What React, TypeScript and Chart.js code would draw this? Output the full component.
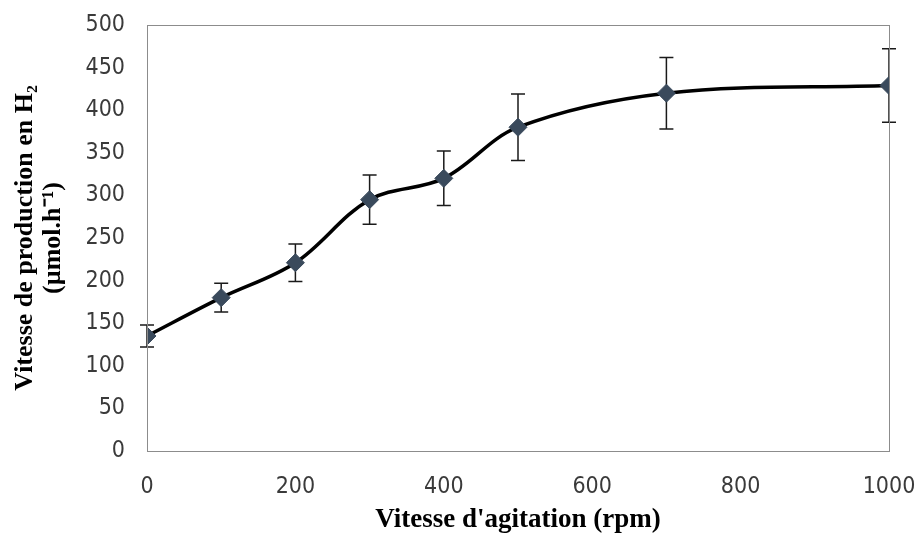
import React, { useEffect, useRef } from "react";
import { Chart, registerables } from "chart.js";

Chart.register(...registerables);

const speeds = [0, 100, 200, 300, 400, 500, 700, 1000];
const production = [135, 180, 221, 295, 320, 380, 420, 429];
const errors = [13, 17, 22, 29, 32, 39, 42, 43];
const yTicks = [0, 50, 100, 150, 200, 250, 300, 350, 400, 450, 500];
const xTicks = [0, 200, 400, 600, 800, 1000];

const errorBarPlugin = {
  id: "errorBars",
  beforeDatasetsDraw(chart: any) {
    const ctx = chart.ctx;
    const xs = chart.scales.x;
    const ys = chart.scales.y;
    ctx.save();
    ctx.strokeStyle = "#1a1a1a";
    ctx.lineWidth = 1.5;
    speeds.forEach((s, i) => {
      const x = xs.getPixelForValue(s);
      const yTop = ys.getPixelForValue(production[i] + errors[i]);
      const yBot = ys.getPixelForValue(production[i] - errors[i]);
      ctx.beginPath();
      ctx.moveTo(x, yTop);
      ctx.lineTo(x, yBot);
      ctx.moveTo(x - 7, yTop);
      ctx.lineTo(x + 7, yTop);
      ctx.moveTo(x - 7, yBot);
      ctx.lineTo(x + 7, yBot);
      ctx.stroke();
    });
    ctx.restore();
  },
};

const boxPlugin = {
  id: "box",
  afterDraw(chart: any) {
    const { ctx, chartArea } = chart;
    ctx.save();
    ctx.strokeStyle = "#8c8c8c";
    ctx.lineWidth = 1;
    ctx.strokeRect(
      Math.round(chartArea.left) + 0.5,
      Math.round(chartArea.top) + 0.5,
      Math.round(chartArea.right - chartArea.left),
      Math.round(chartArea.bottom - chartArea.top)
    );
    ctx.restore();
  },
};

const tickFont = { family: "'DejaVu Sans Condensed', 'DejaVu Sans', sans-serif", size: 23 };

export default function App() {
  const ref = useRef<HTMLCanvasElement>(null);
  useEffect(() => {
    document.body.style.margin = "0";
    const chart = new Chart(ref.current!, {
      type: "line",
      data: {
        datasets: [
          {
            data: speeds.map((s, i) => ({ x: s, y: production[i] })),
            borderColor: "#000000",
            borderWidth: 3.5,
            tension: 0.35,
            pointStyle: "rectRot",
            pointRadius: 9,
            pointBackgroundColor: "#3a4a5c",
            pointBorderColor: "#3a4a5c",
            pointBorderWidth: 1,
            fill: false,
          },
        ],
      },
      options: {
        animation: false,
        responsive: false,
        layout: { padding: { top: 25, right: 29, left: 0, bottom: 0 } },
        plugins: {
          legend: { display: false },
          tooltip: { enabled: false },
        },
        scales: {
          x: {
            type: "linear",
            min: 0,
            max: 1000,
            afterBuildTicks: (scale: any) => {
              scale.ticks = xTicks.map((v) => ({ value: v }));
            },
            afterFit: (scale: any) => {
              scale.height = 85;
              scale.paddingLeft = 0;
              scale.paddingRight = 0;
            },
            grid: { display: false, drawTicks: false },
            border: { display: false },
            ticks: {
              padding: 22,
              color: "#3a3a3a",
              font: tickFont,
              callback: (v: any) => String(v),
            },
            title: {
              display: true,
              text: "Vitesse d'agitation (rpm)",
              color: "#000",
              font: { family: "Liberation Serif", size: 27, weight: "bold", lineHeight: 1.2 },
              padding: { top: 0, bottom: 0 },
            },
          },
          y: {
            type: "linear",
            min: 0,
            max: 500,
            afterBuildTicks: (scale: any) => {
              scale.ticks = yTicks.map((v) => ({ value: v }));
            },
            afterFit: (scale: any) => {
              scale.width = 147;
              scale.paddingTop = 0;
              scale.paddingBottom = 0;
            },
            grid: { display: false, drawTicks: false },
            border: { display: false },
            ticks: {
              padding: 22,
              color: "#3a3a3a",
              font: tickFont,
              callback: (v: any) => String(v),
            },
            title: {
              display: true,
              text: ["Vitesse de production en H\u2082", "(\u00b5mol.h\u207b\u00b9)"],
              color: "#000",
              font: { family: "Liberation Serif", size: 26, weight: "bold", lineHeight: 1.05 },
              padding: { top: 12, bottom: 0 },
            },
          },
        },
      },
      plugins: [errorBarPlugin, boxPlugin],
    });
    return () => chart.destroy();
  }, []);
  return (
    <div style={{ position: "absolute", left: 0, top: 0, width: 918, height: 536, background: "#fff" }}>
      <canvas ref={ref} width={918} height={536} />
    </div>
  );
}
